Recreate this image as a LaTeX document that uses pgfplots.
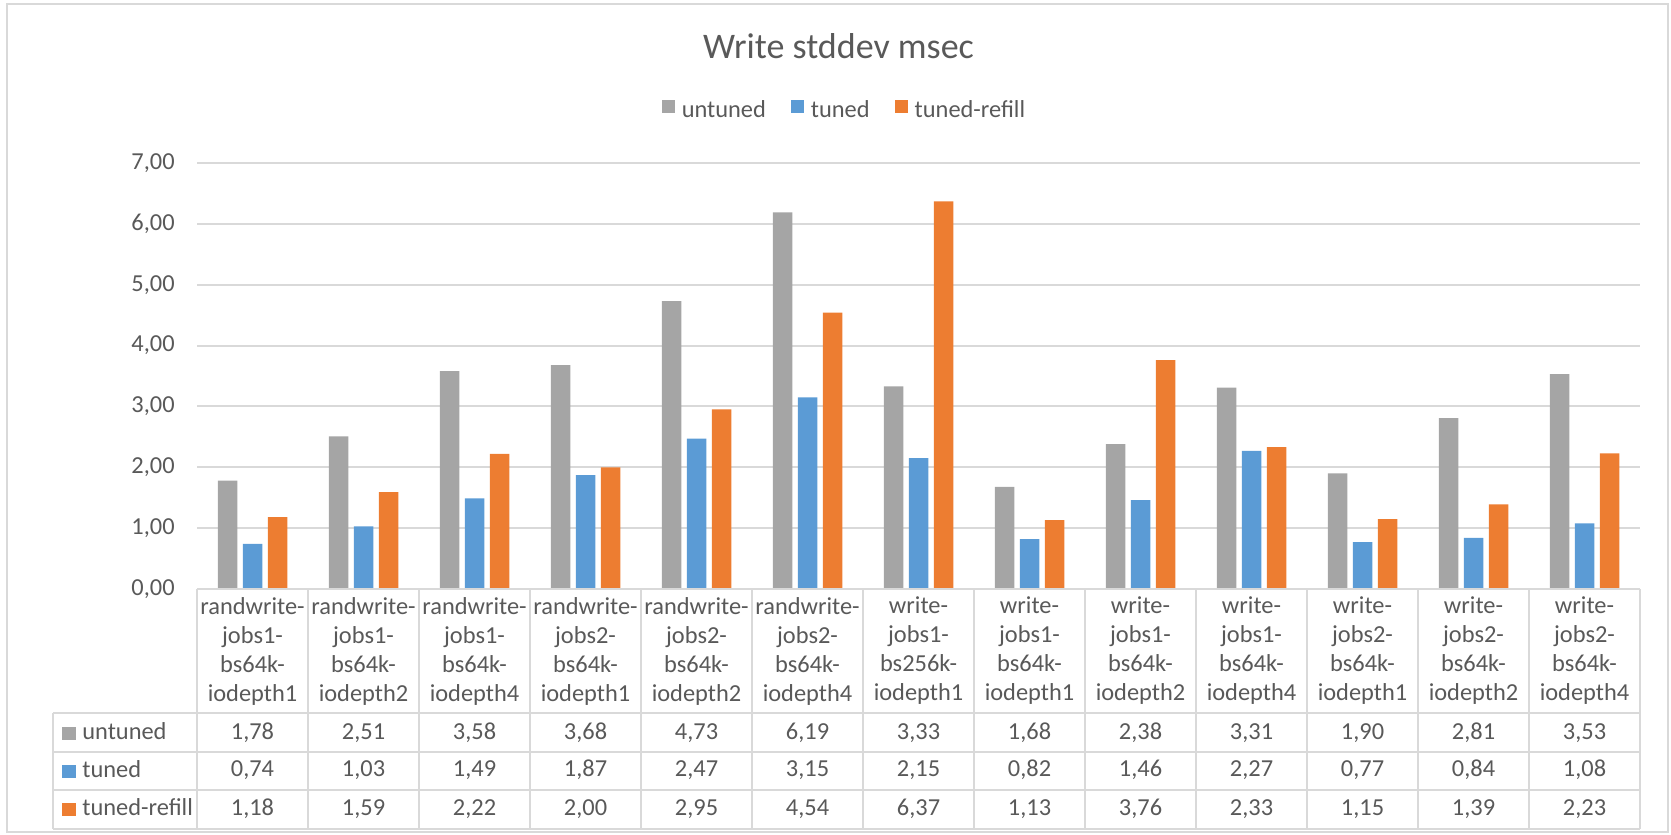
\documentclass[border=0pt]{standalone}
\usepackage{fontspec}
\setmainfont{Carlito}
\usepackage{pgfplots}
\pgfplotsset{compat=1.18}
\usepackage{pgfplotstable}

\definecolor{untunedc}{HTML}{A5A5A5}
\definecolor{tunedc}{HTML}{5B9BD5}
\definecolor{refillc}{HTML}{ED7D31}
\definecolor{txt}{HTML}{595959}
\definecolor{rulec}{HTML}{D9D9D9}

% Write stddev (msec) per fio job
\pgfplotstableread{
idx untuned tuned refill
0   1.78  0.74  1.18
1   2.51  1.03  1.59
2   3.58  1.49  2.22
3   3.68  1.87  2.00
4   4.73  2.47  2.95
5   6.19  3.15  4.54
6   3.33  2.15  6.37
7   1.68  0.82  1.13
8   2.38  1.46  3.76
9   3.31  2.27  2.33
10  1.90  0.77  1.15
11  2.81  0.84  1.39
12  3.53  1.08  2.23
}\stddev

\newcommand\smallfont{\fontsize{12.2}{14.5}\selectfont}

\begin{document}
\begin{tikzpicture}
\begin{axis}[
  at={(98.5pt,-294.5pt)}, anchor=south west,
  scale only axis, width=721.5pt, height=213pt,
  xmin=-0.5, xmax=12.5, ymin=0, ymax=7,
  clip=false,
  axis line style={draw=none},
  major tick length=0pt,
  ytick={0,1,...,7},
  ymajorgrids, grid style={rulec, line width=1pt},
  xtick={0,...,12},
  xticklabels={
    {randwrite-\\jobs1-\\bs64k-\\iodepth1},
    {randwrite-\\jobs1-\\bs64k-\\iodepth2},
    {randwrite-\\jobs1-\\bs64k-\\iodepth4},
    {randwrite-\\jobs2-\\bs64k-\\iodepth1},
    {randwrite-\\jobs2-\\bs64k-\\iodepth2},
    {randwrite-\\jobs2-\\bs64k-\\iodepth4},
    {write-\\jobs1-\\bs256k-\\iodepth1},
    {write-\\jobs1-\\bs64k-\\iodepth1},
    {write-\\jobs1-\\bs64k-\\iodepth2},
    {write-\\jobs1-\\bs64k-\\iodepth4},
    {write-\\jobs2-\\bs64k-\\iodepth1},
    {write-\\jobs2-\\bs64k-\\iodepth2},
    {write-\\jobs2-\\bs64k-\\iodepth4}},
  xticklabel style={align=center, anchor=north, inner sep=0pt, yshift=-3.9pt, font=\smallfont, text=txt},
  yticklabel style={anchor=east, inner sep=0pt, xshift=-11pt, font=\smallfont, text=txt},
  /pgf/number format/fixed,
  /pgf/number format/fixed zerofill,
  /pgf/number format/precision=2,
  /pgf/number format/use comma,
  /pgf/number format/assume math mode=true,
  scaled y ticks=false,
  legend columns=3,
  legend style={at={(0.448,1.1244)}, anchor=center, draw=none, fill=none,
    inner sep=0pt, font=\smallfont, text=txt, nodes={inner sep=0pt},
    /tikz/every odd column/.append style={column sep=3.5pt},
    /tikz/every even column/.append style={column sep=12.5pt}},
  legend image code/.code={\fill[#1] (0pt,-1pt) rectangle (6.5pt,5.5pt);},
  valrow/.style={forget plot, draw=none, mark=none, point meta=explicit,
    nodes near coords={\pgfmathprintnumber{\pgfplotspointmeta}},
    every node near coord/.style={anchor=base, inner sep=0pt, font=\smallfont, text=txt}},
]
\addplot[ybar, bar width=9.75pt, bar shift=-12.5pt, fill=untunedc, draw=none]
  table[x=idx, y=untuned]{\stddev};
\addlegendentry{untuned}
\addplot[ybar, bar width=9.75pt, bar shift=0pt, fill=tunedc, draw=none]
  table[x=idx, y=tuned]{\stddev};
\addlegendentry{tuned}
\addplot[ybar, bar width=9.75pt, bar shift=12.5pt, fill=refillc, draw=none]
  table[x=idx, y=refill]{\stddev};
\addlegendentry{tuned-refill}

% data table rows under the category labels
\addplot[valrow] table[x=idx, y expr=-2.465, meta=untuned]{\stddev};
\addplot[valrow] table[x=idx, y expr=-3.089, meta=tuned]{\stddev};
\addplot[valrow] table[x=idx, y expr=-3.714, meta=refill]{\stddev};
\end{axis}

\begin{scope}[x=0.5pt, y=-0.5pt]
  \path (0,0) rectangle (1671,835);
  \draw[rulec, line width=1pt] (7,4) rectangle (1668,832);
  \node[anchor=base, inner sep=0pt, text=txt, font=\fontsize{18}{21}\selectfont] at (838.5,58) {Write stddev msec};
  % grid of the data table
  \begin{scope}[rulec, line width=1pt]
    \foreach \k in {0,...,13} {
      \draw ({197+111*\k},589) -- ({197+111*\k},829);
    }
    \draw (197,589) -- (1640,589);
    \foreach \yy in {713,752,790,829} {
      \draw (53,\yy) -- (1640,\yy);
    }
    \draw (53,713) -- (53,829);
  \end{scope}
  % row keys
  \fill[untunedc] (62,727) rectangle (76,740);
  \fill[tunedc]   (62,765) rectangle (76,778);
  \fill[refillc]  (62,803) rectangle (76,816);
  \node[anchor=base west, inner sep=0pt, font=\smallfont, text=txt] at (82,739) {untuned};
  \node[anchor=base west, inner sep=0pt, font=\smallfont, text=txt] at (82,777) {tuned};
  \node[anchor=base west, inner sep=0pt, font=\smallfont, text=txt] at (82,815) {tuned-refill};
\end{scope}
\end{tikzpicture}
\end{document}
